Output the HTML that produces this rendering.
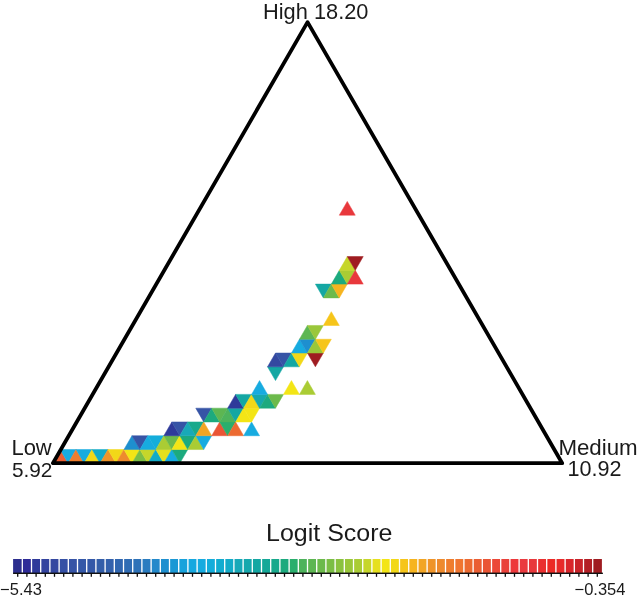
<!DOCTYPE html>
<html><head><meta charset="utf-8"><style>
html,body{margin:0;padding:0;background:#fff;width:638px;height:599px;overflow:hidden}
svg{display:block;will-change:transform}
text{font-family:"Liberation Sans",sans-serif;fill:#1a1a1a}
</style></head><body>
<svg width="638" height="599" viewBox="0 0 638 599">
<polygon points="52.20,463.30 68.15,463.30 60.18,449.52" fill="#ea5e33" stroke="#ea5e33" stroke-width="0.5"/>
<polygon points="60.18,449.52 76.12,449.52 68.15,463.30" fill="#17abe0" stroke="#17abe0" stroke-width="0.5"/>
<polygon points="68.15,463.30 84.10,463.30 76.12,449.52" fill="#ef7d2d" stroke="#ef7d2d" stroke-width="0.5"/>
<polygon points="76.12,449.52 92.08,449.52 84.10,463.30" fill="#17abe0" stroke="#17abe0" stroke-width="0.5"/>
<polygon points="84.10,463.30 100.05,463.30 92.07,449.52" fill="#f2d818" stroke="#f2d818" stroke-width="0.5"/>
<polygon points="92.08,449.52 108.03,449.52 100.05,463.30" fill="#13abc8" stroke="#13abc8" stroke-width="0.5"/>
<polygon points="100.05,463.30 116.00,463.30 108.02,449.52" fill="#ef9429" stroke="#ef9429" stroke-width="0.5"/>
<polygon points="108.03,449.52 123.98,449.52 116.00,463.30" fill="#f2d818" stroke="#f2d818" stroke-width="0.5"/>
<polygon points="116.00,463.30 131.95,463.30 123.97,449.52" fill="#ee8a2d" stroke="#ee8a2d" stroke-width="0.5"/>
<polygon points="123.97,449.52 139.92,449.52 131.95,463.30" fill="#f3e516" stroke="#f3e516" stroke-width="0.5"/>
<polygon points="131.95,463.30 147.90,463.30 139.92,449.52" fill="#7bbe45" stroke="#7bbe45" stroke-width="0.5"/>
<polygon points="139.93,449.52 155.88,449.52 147.90,463.30" fill="#c6d62a" stroke="#c6d62a" stroke-width="0.5"/>
<polygon points="147.90,463.30 163.85,463.30 155.87,449.52" fill="#13abc8" stroke="#13abc8" stroke-width="0.5"/>
<polygon points="155.88,449.52 171.82,449.52 163.85,463.30" fill="#e6e01e" stroke="#e6e01e" stroke-width="0.5"/>
<polygon points="163.85,463.30 179.80,463.30 171.82,449.52" fill="#17abe0" stroke="#17abe0" stroke-width="0.5"/>
<polygon points="171.82,449.52 187.77,449.52 179.80,463.30" fill="#1caa7e" stroke="#1caa7e" stroke-width="0.5"/>
<polygon points="123.97,449.52 139.92,449.52 131.95,435.73" fill="#1e8fcf" stroke="#1e8fcf" stroke-width="0.5"/>
<polygon points="131.95,435.73 147.90,435.73 139.92,449.52" fill="#3654a6" stroke="#3654a6" stroke-width="0.5"/>
<polygon points="139.93,449.52 155.88,449.52 147.90,435.73" fill="#17abe0" stroke="#17abe0" stroke-width="0.5"/>
<polygon points="147.90,435.73 163.85,435.73 155.88,449.52" fill="#14addb" stroke="#14addb" stroke-width="0.5"/>
<polygon points="155.88,449.52 171.82,449.52 163.85,435.73" fill="#aacc34" stroke="#aacc34" stroke-width="0.5"/>
<polygon points="163.85,435.73 179.80,435.73 171.82,449.52" fill="#6cba4b" stroke="#6cba4b" stroke-width="0.5"/>
<polygon points="171.82,449.52 187.77,449.52 179.80,435.73" fill="#f3e516" stroke="#f3e516" stroke-width="0.5"/>
<polygon points="179.80,435.73 195.75,435.73 187.78,449.52" fill="#1caa7e" stroke="#1caa7e" stroke-width="0.5"/>
<polygon points="187.78,449.52 203.72,449.52 195.75,435.73" fill="#aacc34" stroke="#aacc34" stroke-width="0.5"/>
<polygon points="195.75,435.73 211.70,435.73 203.72,449.52" fill="#17abe0" stroke="#17abe0" stroke-width="0.5"/>
<polygon points="163.85,435.73 179.80,435.73 171.82,421.95" fill="#2f3a9a" stroke="#2f3a9a" stroke-width="0.5"/>
<polygon points="171.82,421.95 187.77,421.95 179.80,435.73" fill="#3654a6" stroke="#3654a6" stroke-width="0.5"/>
<polygon points="179.80,435.73 195.75,435.73 187.78,421.95" fill="#18a9b8" stroke="#18a9b8" stroke-width="0.5"/>
<polygon points="187.77,421.95 203.72,421.95 195.75,435.73" fill="#18a98c" stroke="#18a98c" stroke-width="0.5"/>
<polygon points="195.75,435.73 211.70,435.73 203.72,421.95" fill="#f2a524" stroke="#f2a524" stroke-width="0.5"/>
<polygon points="211.70,435.73 227.65,435.73 219.67,421.95" fill="#ea5535" stroke="#ea5535" stroke-width="0.5"/>
<polygon points="219.67,421.95 235.62,421.95 227.65,435.73" fill="#2aae6d" stroke="#2aae6d" stroke-width="0.5"/>
<polygon points="227.65,435.73 243.60,435.73 235.62,421.95" fill="#ec6a31" stroke="#ec6a31" stroke-width="0.5"/>
<polygon points="243.60,435.73 259.55,435.73 251.57,421.95" fill="#17abe0" stroke="#17abe0" stroke-width="0.5"/>
<polygon points="195.75,408.16 211.70,408.16 203.72,421.95" fill="#3654a6" stroke="#3654a6" stroke-width="0.5"/>
<polygon points="203.72,421.95 219.67,421.95 211.70,408.16" fill="#1caa7e" stroke="#1caa7e" stroke-width="0.5"/>
<polygon points="211.70,408.16 227.65,408.16 219.67,421.95" fill="#5db652" stroke="#5db652" stroke-width="0.5"/>
<polygon points="219.67,421.95 235.62,421.95 227.65,408.16" fill="#4db35c" stroke="#4db35c" stroke-width="0.5"/>
<polygon points="227.65,408.16 243.60,408.16 235.62,421.95" fill="#14a7a3" stroke="#14a7a3" stroke-width="0.5"/>
<polygon points="235.62,421.95 251.57,421.95 243.60,408.16" fill="#f3e516" stroke="#f3e516" stroke-width="0.5"/>
<polygon points="243.60,408.16 259.55,408.16 251.57,421.95" fill="#f3e516" stroke="#f3e516" stroke-width="0.5"/>
<polygon points="227.65,408.16 243.60,408.16 235.62,394.38" fill="#2f3a9a" stroke="#2f3a9a" stroke-width="0.5"/>
<polygon points="235.62,394.38 251.57,394.38 243.60,408.16" fill="#14a7a3" stroke="#14a7a3" stroke-width="0.5"/>
<polygon points="243.60,408.16 259.55,408.16 251.57,394.38" fill="#f2d818" stroke="#f2d818" stroke-width="0.5"/>
<polygon points="251.57,394.38 267.52,394.38 259.55,408.16" fill="#16a8ad" stroke="#16a8ad" stroke-width="0.5"/>
<polygon points="259.55,408.16 275.50,408.16 267.52,394.38" fill="#1caa7e" stroke="#1caa7e" stroke-width="0.5"/>
<polygon points="267.52,394.38 283.47,394.38 275.50,408.16" fill="#6cba4b" stroke="#6cba4b" stroke-width="0.5"/>
<polygon points="251.57,394.38 267.52,394.38 259.55,380.60" fill="#17abe0" stroke="#17abe0" stroke-width="0.5"/>
<polygon points="283.47,394.38 299.42,394.38 291.45,380.60" fill="#f3e516" stroke="#f3e516" stroke-width="0.5"/>
<polygon points="299.43,394.38 315.38,394.38 307.40,380.60" fill="#aacc34" stroke="#aacc34" stroke-width="0.5"/>
<polygon points="267.52,366.81 283.47,366.81 275.50,380.60" fill="#14a7a3" stroke="#14a7a3" stroke-width="0.5"/>
<polygon points="267.52,366.81 283.47,366.81 275.50,353.03" fill="#3448a0" stroke="#3448a0" stroke-width="0.5"/>
<polygon points="275.50,353.03 291.45,353.03 283.48,366.81" fill="#3654a6" stroke="#3654a6" stroke-width="0.5"/>
<polygon points="283.48,366.81 299.43,366.81 291.45,353.03" fill="#14a7a3" stroke="#14a7a3" stroke-width="0.5"/>
<polygon points="291.45,353.03 307.40,353.03 299.43,366.81" fill="#f2d818" stroke="#f2d818" stroke-width="0.5"/>
<polygon points="307.40,353.03 323.35,353.03 315.38,366.81" fill="#9f1c21" stroke="#9f1c21" stroke-width="0.5"/>
<polygon points="291.45,353.03 307.40,353.03 299.43,339.24" fill="#17abe0" stroke="#17abe0" stroke-width="0.5"/>
<polygon points="299.42,339.24 315.37,339.24 307.40,353.03" fill="#1e8fcf" stroke="#1e8fcf" stroke-width="0.5"/>
<polygon points="307.40,353.03 323.35,353.03 315.38,339.24" fill="#9ac73a" stroke="#9ac73a" stroke-width="0.5"/>
<polygon points="315.38,339.24 331.32,339.24 323.35,353.03" fill="#f6c51a" stroke="#f6c51a" stroke-width="0.5"/>
<polygon points="299.42,339.24 315.37,339.24 307.40,325.46" fill="#5db652" stroke="#5db652" stroke-width="0.5"/>
<polygon points="307.40,325.46 323.35,325.46 315.38,339.24" fill="#9ac73a" stroke="#9ac73a" stroke-width="0.5"/>
<polygon points="323.35,325.46 339.30,325.46 331.32,311.68" fill="#f6c51a" stroke="#f6c51a" stroke-width="0.5"/>
<polygon points="315.38,284.11 331.32,284.11 323.35,297.89" fill="#14a7a3" stroke="#14a7a3" stroke-width="0.5"/>
<polygon points="323.35,297.89 339.30,297.89 331.32,284.11" fill="#6cba4b" stroke="#6cba4b" stroke-width="0.5"/>
<polygon points="331.32,284.11 347.27,284.11 339.30,297.89" fill="#f6b41f" stroke="#f6b41f" stroke-width="0.5"/>
<polygon points="331.32,284.11 347.27,284.11 339.30,270.32" fill="#1caa7e" stroke="#1caa7e" stroke-width="0.5"/>
<polygon points="339.30,270.32 355.25,270.32 347.27,284.11" fill="#aacc34" stroke="#aacc34" stroke-width="0.5"/>
<polygon points="347.27,284.11 363.22,284.11 355.25,270.32" fill="#e8383c" stroke="#e8383c" stroke-width="0.5"/>
<polygon points="339.30,270.32 355.25,270.32 347.27,256.54" fill="#c6d62a" stroke="#c6d62a" stroke-width="0.5"/>
<polygon points="347.27,256.54 363.22,256.54 355.25,270.32" fill="#9f1c21" stroke="#9f1c21" stroke-width="0.5"/>
<polygon points="339.30,215.19 355.25,215.19 347.27,201.40" fill="#e8383c" stroke="#e8383c" stroke-width="0.5"/>
<polygon points="52.90,463.20 562.20,463.20 307.55,22.14" fill="none" stroke="#000" stroke-width="3.8" stroke-linejoin="round"/>
<rect x="13.10" y="559.00" width="9.20" height="14.20" fill="#2c2e8e"/>
<rect x="22.30" y="559.00" width="9.20" height="14.20" fill="#2e2b98"/>
<rect x="31.50" y="559.00" width="9.20" height="14.20" fill="#2f3a9a"/>
<rect x="40.70" y="559.00" width="9.20" height="14.20" fill="#33439e"/>
<rect x="49.90" y="559.00" width="9.20" height="14.20" fill="#3448a0"/>
<rect x="59.10" y="559.00" width="9.20" height="14.20" fill="#3550a5"/>
<rect x="68.30" y="559.00" width="9.20" height="14.20" fill="#3654a6"/>
<rect x="77.50" y="559.00" width="9.20" height="14.20" fill="#3458a8"/>
<rect x="86.70" y="559.00" width="9.20" height="14.20" fill="#3358a8"/>
<rect x="95.90" y="559.00" width="9.20" height="14.20" fill="#335ea9"/>
<rect x="105.10" y="559.00" width="9.20" height="14.20" fill="#3361ac"/>
<rect x="114.30" y="559.00" width="9.20" height="14.20" fill="#3066b0"/>
<rect x="123.50" y="559.00" width="9.20" height="14.20" fill="#2f6cb4"/>
<rect x="132.70" y="559.00" width="9.20" height="14.20" fill="#2e72b8"/>
<rect x="141.90" y="559.00" width="9.20" height="14.20" fill="#2a7cc0"/>
<rect x="151.10" y="559.00" width="9.20" height="14.20" fill="#2389cb"/>
<rect x="160.30" y="559.00" width="9.20" height="14.20" fill="#1e8fcf"/>
<rect x="169.50" y="559.00" width="9.20" height="14.20" fill="#1a98d5"/>
<rect x="178.70" y="559.00" width="9.20" height="14.20" fill="#17a2dc"/>
<rect x="187.90" y="559.00" width="9.20" height="14.20" fill="#16a8e0"/>
<rect x="197.10" y="559.00" width="9.20" height="14.20" fill="#17abe0"/>
<rect x="206.30" y="559.00" width="9.20" height="14.20" fill="#14addb"/>
<rect x="215.50" y="559.00" width="9.20" height="14.20" fill="#12acd0"/>
<rect x="224.70" y="559.00" width="9.20" height="14.20" fill="#13abc8"/>
<rect x="233.90" y="559.00" width="9.20" height="14.20" fill="#18a9b8"/>
<rect x="243.10" y="559.00" width="9.20" height="14.20" fill="#16a8ad"/>
<rect x="252.30" y="559.00" width="9.20" height="14.20" fill="#14a7a3"/>
<rect x="261.50" y="559.00" width="9.20" height="14.20" fill="#15a898"/>
<rect x="270.70" y="559.00" width="9.20" height="14.20" fill="#18a98c"/>
<rect x="279.90" y="559.00" width="9.20" height="14.20" fill="#1caa7e"/>
<rect x="289.10" y="559.00" width="9.20" height="14.20" fill="#2aae6d"/>
<rect x="298.30" y="559.00" width="9.20" height="14.20" fill="#4db35c"/>
<rect x="307.50" y="559.00" width="9.20" height="14.20" fill="#5db652"/>
<rect x="316.70" y="559.00" width="9.20" height="14.20" fill="#6cba4b"/>
<rect x="325.90" y="559.00" width="9.20" height="14.20" fill="#7bbe45"/>
<rect x="335.10" y="559.00" width="9.20" height="14.20" fill="#8ac23f"/>
<rect x="344.30" y="559.00" width="9.20" height="14.20" fill="#9ac73a"/>
<rect x="353.50" y="559.00" width="9.20" height="14.20" fill="#aacc34"/>
<rect x="362.70" y="559.00" width="9.20" height="14.20" fill="#c6d62a"/>
<rect x="371.90" y="559.00" width="9.20" height="14.20" fill="#e6e01e"/>
<rect x="381.10" y="559.00" width="9.20" height="14.20" fill="#f3e516"/>
<rect x="390.30" y="559.00" width="9.20" height="14.20" fill="#f2d818"/>
<rect x="399.50" y="559.00" width="9.20" height="14.20" fill="#f6c51a"/>
<rect x="408.70" y="559.00" width="9.20" height="14.20" fill="#f6b41f"/>
<rect x="417.90" y="559.00" width="9.20" height="14.20" fill="#f2a524"/>
<rect x="427.10" y="559.00" width="9.20" height="14.20" fill="#ef9429"/>
<rect x="436.30" y="559.00" width="9.20" height="14.20" fill="#ee8a2d"/>
<rect x="445.50" y="559.00" width="9.20" height="14.20" fill="#ef7d2d"/>
<rect x="454.70" y="559.00" width="9.20" height="14.20" fill="#f07530"/>
<rect x="463.90" y="559.00" width="9.20" height="14.20" fill="#ec6a31"/>
<rect x="473.10" y="559.00" width="9.20" height="14.20" fill="#ea5e33"/>
<rect x="482.30" y="559.00" width="9.20" height="14.20" fill="#ea5535"/>
<rect x="491.50" y="559.00" width="9.20" height="14.20" fill="#ec4837"/>
<rect x="500.70" y="559.00" width="9.20" height="14.20" fill="#e9413a"/>
<rect x="509.90" y="559.00" width="9.20" height="14.20" fill="#ed383b"/>
<rect x="519.10" y="559.00" width="9.20" height="14.20" fill="#ea3a3f"/>
<rect x="528.30" y="559.00" width="9.20" height="14.20" fill="#e8383c"/>
<rect x="537.50" y="559.00" width="9.20" height="14.20" fill="#ea3030"/>
<rect x="546.70" y="559.00" width="9.20" height="14.20" fill="#ec2a26"/>
<rect x="555.90" y="559.00" width="9.20" height="14.20" fill="#e82a2a"/>
<rect x="565.10" y="559.00" width="9.20" height="14.20" fill="#d9262b"/>
<rect x="574.30" y="559.00" width="9.20" height="14.20" fill="#c92329"/>
<rect x="583.50" y="559.00" width="9.20" height="14.20" fill="#b31f25"/>
<rect x="592.70" y="559.00" width="9.20" height="14.20" fill="#9f1c21"/>
<rect x="21.65" y="559.00" width="1.3" height="13.70" fill="#fff"/>
<rect x="30.85" y="559.00" width="1.3" height="13.70" fill="#fff"/>
<rect x="40.05" y="559.00" width="1.3" height="13.70" fill="#fff"/>
<rect x="49.25" y="559.00" width="1.3" height="13.70" fill="#fff"/>
<rect x="58.45" y="559.00" width="1.3" height="13.70" fill="#fff"/>
<rect x="67.65" y="559.00" width="1.3" height="13.70" fill="#fff"/>
<rect x="76.85" y="559.00" width="1.3" height="13.70" fill="#fff"/>
<rect x="86.05" y="559.00" width="1.3" height="13.70" fill="#fff"/>
<rect x="95.25" y="559.00" width="1.3" height="13.70" fill="#fff"/>
<rect x="104.45" y="559.00" width="1.3" height="13.70" fill="#fff"/>
<rect x="113.65" y="559.00" width="1.3" height="13.70" fill="#fff"/>
<rect x="122.85" y="559.00" width="1.3" height="13.70" fill="#fff"/>
<rect x="132.05" y="559.00" width="1.3" height="13.70" fill="#fff"/>
<rect x="141.25" y="559.00" width="1.3" height="13.70" fill="#fff"/>
<rect x="150.45" y="559.00" width="1.3" height="13.70" fill="#fff"/>
<rect x="159.65" y="559.00" width="1.3" height="13.70" fill="#fff"/>
<rect x="168.85" y="559.00" width="1.3" height="13.70" fill="#fff"/>
<rect x="178.05" y="559.00" width="1.3" height="13.70" fill="#fff"/>
<rect x="187.25" y="559.00" width="1.3" height="13.70" fill="#fff"/>
<rect x="196.45" y="559.00" width="1.3" height="13.70" fill="#fff"/>
<rect x="205.65" y="559.00" width="1.3" height="13.70" fill="#fff"/>
<rect x="214.85" y="559.00" width="1.3" height="13.70" fill="#fff"/>
<rect x="224.05" y="559.00" width="1.3" height="13.70" fill="#fff"/>
<rect x="233.25" y="559.00" width="1.3" height="13.70" fill="#fff"/>
<rect x="242.45" y="559.00" width="1.3" height="13.70" fill="#fff"/>
<rect x="251.65" y="559.00" width="1.3" height="13.70" fill="#fff"/>
<rect x="260.85" y="559.00" width="1.3" height="13.70" fill="#fff"/>
<rect x="270.05" y="559.00" width="1.3" height="13.70" fill="#fff"/>
<rect x="279.25" y="559.00" width="1.3" height="13.70" fill="#fff"/>
<rect x="288.45" y="559.00" width="1.3" height="13.70" fill="#fff"/>
<rect x="297.65" y="559.00" width="1.3" height="13.70" fill="#fff"/>
<rect x="306.85" y="559.00" width="1.3" height="13.70" fill="#fff"/>
<rect x="316.05" y="559.00" width="1.3" height="13.70" fill="#fff"/>
<rect x="325.25" y="559.00" width="1.3" height="13.70" fill="#fff"/>
<rect x="334.45" y="559.00" width="1.3" height="13.70" fill="#fff"/>
<rect x="343.65" y="559.00" width="1.3" height="13.70" fill="#fff"/>
<rect x="352.85" y="559.00" width="1.3" height="13.70" fill="#fff"/>
<rect x="362.05" y="559.00" width="1.3" height="13.70" fill="#fff"/>
<rect x="371.25" y="559.00" width="1.3" height="13.70" fill="#fff"/>
<rect x="380.45" y="559.00" width="1.3" height="13.70" fill="#fff"/>
<rect x="389.65" y="559.00" width="1.3" height="13.70" fill="#fff"/>
<rect x="398.85" y="559.00" width="1.3" height="13.70" fill="#fff"/>
<rect x="408.05" y="559.00" width="1.3" height="13.70" fill="#fff"/>
<rect x="417.25" y="559.00" width="1.3" height="13.70" fill="#fff"/>
<rect x="426.45" y="559.00" width="1.3" height="13.70" fill="#fff"/>
<rect x="435.65" y="559.00" width="1.3" height="13.70" fill="#fff"/>
<rect x="444.85" y="559.00" width="1.3" height="13.70" fill="#fff"/>
<rect x="454.05" y="559.00" width="1.3" height="13.70" fill="#fff"/>
<rect x="463.25" y="559.00" width="1.3" height="13.70" fill="#fff"/>
<rect x="472.45" y="559.00" width="1.3" height="13.70" fill="#fff"/>
<rect x="481.65" y="559.00" width="1.3" height="13.70" fill="#fff"/>
<rect x="490.85" y="559.00" width="1.3" height="13.70" fill="#fff"/>
<rect x="500.05" y="559.00" width="1.3" height="13.70" fill="#fff"/>
<rect x="509.25" y="559.00" width="1.3" height="13.70" fill="#fff"/>
<rect x="518.45" y="559.00" width="1.3" height="13.70" fill="#fff"/>
<rect x="527.65" y="559.00" width="1.3" height="13.70" fill="#fff"/>
<rect x="536.85" y="559.00" width="1.3" height="13.70" fill="#fff"/>
<rect x="546.05" y="559.00" width="1.3" height="13.70" fill="#fff"/>
<rect x="555.25" y="559.00" width="1.3" height="13.70" fill="#fff"/>
<rect x="564.45" y="559.00" width="1.3" height="13.70" fill="#fff"/>
<rect x="573.65" y="559.00" width="1.3" height="13.70" fill="#fff"/>
<rect x="582.85" y="559.00" width="1.3" height="13.70" fill="#fff"/>
<rect x="592.05" y="559.00" width="1.3" height="13.70" fill="#fff"/>
<rect x="13.10" y="572.6" width="589.80" height="1.4" fill="#111"/>
<rect x="17.05" y="573" width="1.3" height="3.8" fill="#111"/>
<rect x="26.25" y="573" width="1.3" height="3.8" fill="#111"/>
<rect x="35.45" y="573" width="1.3" height="3.8" fill="#111"/>
<rect x="44.65" y="573" width="1.3" height="3.8" fill="#111"/>
<rect x="53.85" y="573" width="1.3" height="3.8" fill="#111"/>
<rect x="63.05" y="573" width="1.3" height="3.8" fill="#111"/>
<rect x="72.25" y="573" width="1.3" height="3.8" fill="#111"/>
<rect x="81.45" y="573" width="1.3" height="3.8" fill="#111"/>
<rect x="90.65" y="573" width="1.3" height="3.8" fill="#111"/>
<rect x="99.85" y="573" width="1.3" height="3.8" fill="#111"/>
<rect x="109.05" y="573" width="1.3" height="3.8" fill="#111"/>
<rect x="118.25" y="573" width="1.3" height="3.8" fill="#111"/>
<rect x="127.45" y="573" width="1.3" height="3.8" fill="#111"/>
<rect x="136.65" y="573" width="1.3" height="3.8" fill="#111"/>
<rect x="145.85" y="573" width="1.3" height="3.8" fill="#111"/>
<rect x="155.05" y="573" width="1.3" height="3.8" fill="#111"/>
<rect x="164.25" y="573" width="1.3" height="3.8" fill="#111"/>
<rect x="173.45" y="573" width="1.3" height="3.8" fill="#111"/>
<rect x="182.65" y="573" width="1.3" height="3.8" fill="#111"/>
<rect x="191.85" y="573" width="1.3" height="3.8" fill="#111"/>
<rect x="201.05" y="573" width="1.3" height="3.8" fill="#111"/>
<rect x="210.25" y="573" width="1.3" height="3.8" fill="#111"/>
<rect x="219.45" y="573" width="1.3" height="3.8" fill="#111"/>
<rect x="228.65" y="573" width="1.3" height="3.8" fill="#111"/>
<rect x="237.85" y="573" width="1.3" height="3.8" fill="#111"/>
<rect x="247.05" y="573" width="1.3" height="3.8" fill="#111"/>
<rect x="256.25" y="573" width="1.3" height="3.8" fill="#111"/>
<rect x="265.45" y="573" width="1.3" height="3.8" fill="#111"/>
<rect x="274.65" y="573" width="1.3" height="3.8" fill="#111"/>
<rect x="283.85" y="573" width="1.3" height="3.8" fill="#111"/>
<rect x="293.05" y="573" width="1.3" height="3.8" fill="#111"/>
<rect x="302.25" y="573" width="1.3" height="3.8" fill="#111"/>
<rect x="311.45" y="573" width="1.3" height="3.8" fill="#111"/>
<rect x="320.65" y="573" width="1.3" height="3.8" fill="#111"/>
<rect x="329.85" y="573" width="1.3" height="3.8" fill="#111"/>
<rect x="339.05" y="573" width="1.3" height="3.8" fill="#111"/>
<rect x="348.25" y="573" width="1.3" height="3.8" fill="#111"/>
<rect x="357.45" y="573" width="1.3" height="3.8" fill="#111"/>
<rect x="366.65" y="573" width="1.3" height="3.8" fill="#111"/>
<rect x="375.85" y="573" width="1.3" height="3.8" fill="#111"/>
<rect x="385.05" y="573" width="1.3" height="3.8" fill="#111"/>
<rect x="394.25" y="573" width="1.3" height="3.8" fill="#111"/>
<rect x="403.45" y="573" width="1.3" height="3.8" fill="#111"/>
<rect x="412.65" y="573" width="1.3" height="3.8" fill="#111"/>
<rect x="421.85" y="573" width="1.3" height="3.8" fill="#111"/>
<rect x="431.05" y="573" width="1.3" height="3.8" fill="#111"/>
<rect x="440.25" y="573" width="1.3" height="3.8" fill="#111"/>
<rect x="449.45" y="573" width="1.3" height="3.8" fill="#111"/>
<rect x="458.65" y="573" width="1.3" height="3.8" fill="#111"/>
<rect x="467.85" y="573" width="1.3" height="3.8" fill="#111"/>
<rect x="477.05" y="573" width="1.3" height="3.8" fill="#111"/>
<rect x="486.25" y="573" width="1.3" height="3.8" fill="#111"/>
<rect x="495.45" y="573" width="1.3" height="3.8" fill="#111"/>
<rect x="504.65" y="573" width="1.3" height="3.8" fill="#111"/>
<rect x="513.85" y="573" width="1.3" height="3.8" fill="#111"/>
<rect x="523.05" y="573" width="1.3" height="3.8" fill="#111"/>
<rect x="532.25" y="573" width="1.3" height="3.8" fill="#111"/>
<rect x="541.45" y="573" width="1.3" height="3.8" fill="#111"/>
<rect x="550.65" y="573" width="1.3" height="3.8" fill="#111"/>
<rect x="559.85" y="573" width="1.3" height="3.8" fill="#111"/>
<rect x="569.05" y="573" width="1.3" height="3.8" fill="#111"/>
<rect x="578.25" y="573" width="1.3" height="3.8" fill="#111"/>
<rect x="587.45" y="573" width="1.3" height="3.8" fill="#111"/>
<rect x="596.65" y="573" width="1.3" height="3.8" fill="#111"/>

<text x="263" y="19.2" font-size="21.8">High 18.20</text>
<text x="11.4" y="455" font-size="22">Low</text>
<text x="11.9" y="477.4" font-size="20.8">5.92</text>
<text x="558.4" y="455" font-size="22.3">Medium</text>
<text x="567.6" y="476.4" font-size="21.6">10.92</text>
<text transform="translate(266,540.5) scale(1.064,1)" x="0" y="0" font-size="23.5">Logit Score</text>
<text x="0.1" y="594.8" font-size="16.5">&#8722;5.43</text>
<text x="574.5" y="594.7" font-size="16.5">&#8722;0.354</text>

</svg>
</body></html>
